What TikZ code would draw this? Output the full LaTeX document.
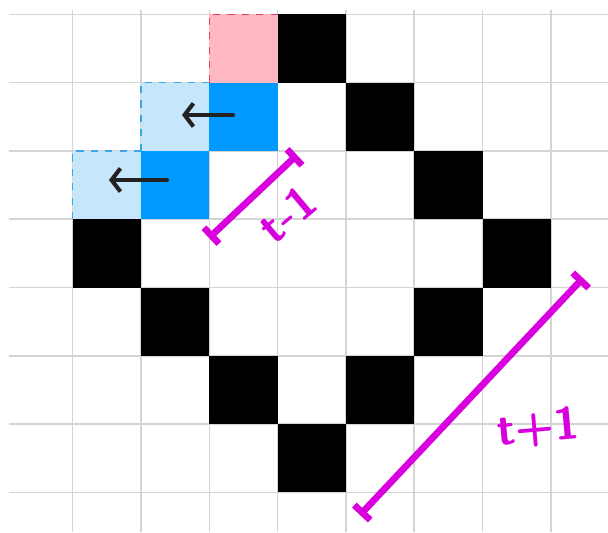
\documentclass[tikz,border=0pt]{standalone}
\usepackage{xcolor}
\usepackage{tikz}
\usetikzlibrary{arrows.meta,positioning}

\definecolor{gridgray}{HTML}{D4D4D4}
\definecolor{pinkfill}{HTML}{FFB7C3}
\definecolor{pinkline}{HTML}{E0405A}
\definecolor{bluefill}{HTML}{0099FF}
\definecolor{lightfill}{HTML}{C6E6FB}
\definecolor{lightline}{HTML}{3AA8E8}
\definecolor{penpink}{HTML}{D800DC}
\definecolor{penblack}{HTML}{222222}

\begin{document}
\begin{tikzpicture}[x=1cm,y=1cm,
gridline/.style={draw=gridgray, line width=0.6pt},
blackcell/.style={fill=black},
bluecell/.style={fill=bluefill},
ghostcell/.style={fill=lightfill},
ghostedge/.style={draw=lightline, dashed, line width=0.6pt},
pinkcell/.style={fill=pinkfill},
pinkedge/.style={draw=pinkline, dashed, line width=0.6pt},
move/.style={draw=penblack, line width=1.7pt, line cap=round, -{Straight Barb[length=1.3mm,width=3.4mm]}},
measure/.style={draw=penpink, line width=2.8pt, line cap=round, {Bar[width=3.2mm]}-{Bar[width=3.2mm]}},
hand/.style={text=penpink, font=\sffamily\bfseries\fontsize{19}{22}\selectfont}
]
\useasboundingbox (-1.064,0.209) rectangle (7.837,-7.58);

% Grid
\foreach \r in {0,...,7}
  \draw[gridline] (-0.933,-\r) -- (7.837,-\r);
\foreach \c in {0,...,7}
  \draw[gridline] (\c,0.063) -- (\c,-7.58);

% Old cells (dashed)
\fill[pinkcell] (2,0) rectangle (3,-1);
\draw[pinkedge] (2,-1) -- (2,0) -- (3,0);
\fill[ghostcell] (1,-1) rectangle (2,-2);
\draw[ghostedge] (1,-2) -- (1,-1) -- (2,-1);
\fill[ghostcell] (0,-2) rectangle (1,-3);
\draw[ghostedge] (0,-3) -- (0,-2) -- (1,-2);

% Moved cells
\fill[bluecell] (2,-1) rectangle (3,-2);
\fill[bluecell] (1,-2) rectangle (2,-3);

% Diamond
\foreach \c/\r in {3/0,4/1,5/2,6/3,5/4,4/5,3/6,2/5,1/4,0/3}
  \fill[blackcell] (\c,-\r) rectangle ++(1,-1);

% Shift arrows
\coordinate (moveA1) at (2.347,-1.474);
\coordinate (moveA2) at (1.600,-1.474);
\coordinate (moveB1) at (1.381,-2.426);
\coordinate (moveB2) at (0.531,-2.426);
\draw[move] (moveA1) -- (moveA2);
\draw[move] (moveB1) -- (moveB2);

% Lengths
\coordinate (shortlo) at (1.996,-3.275);
\coordinate (shorthi) at (3.284,-2.060);
\coordinate (longlo) at (4.206,-7.331);
\coordinate (longhi) at (7.471,-3.861);
\draw[measure] (shortlo) -- (shorthi);
\draw[measure] (longlo) -- (longhi);
\node[hand, rotate=40] (shortlabel) at (3.138,-2.924) {t-1};
\node[hand, rotate=5] (longlabel) at (6.813,-6.057) {t+1};

\end{tikzpicture}
\end{document}
